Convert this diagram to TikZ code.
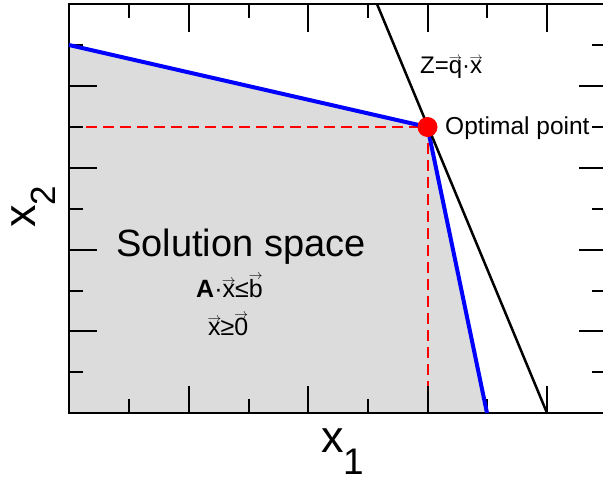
\documentclass[tikz,border=0pt]{standalone}
\usepackage{graphicx}
\usepackage{fontspec}
\setmainfont{Liberation Sans}
\newsavebox{\vabox}
\newcommand{\va}[1]{\leavevmode\sbox{\vabox}{#1}\ooalign{\usebox{\vabox}\cr\hidewidth\raisebox{\dimexpr\ht\vabox-0.04em\relax}{\resizebox{0.55em}{!}{$\rightarrow$}}\hidewidth\cr}}
\definecolor{solgray}{HTML}{DCDCDC}
\begin{document}
\begin{tikzpicture}[x=1pt,y=-1pt,
  lbl/.style={anchor=base west, inner sep=0},
  axisline/.style={line width=2.6pt},
  tickline/.style={line width=2pt},
  reddash/.style={red, line width=2pt, dash pattern=on 11pt off 6pt},
  bound/.style={blue, line width=4pt},
  objline/.style={black, line width=2.5pt},
  optdot/.style={circle, fill=red, minimum size=20pt, inner sep=0}]
\useasboundingbox (0,0) rectangle (603,477);
\clip (0,0) rectangle (603,477);
% corners
\coordinate (TL) at (69,4);
\coordinate (BL) at (69,413);
\coordinate (BR) at (606,413);
\coordinate (P1) at (69,45);
\coordinate (opt) at (427.5,127);
\coordinate (P3) at (487,413);
\coordinate (Ztop) at (377,4);
\coordinate (Zbot) at (547,413);
% solution space
\fill[solgray] (P1) -- (opt) -- (P3) -- (BL) -- cycle;
% dashed guides
\draw[reddash] (BL |- opt) -- (opt) -- (opt |- BL);
% axes box
\draw[axisline] (TL) rectangle (BR);
% x ticks
\foreach \x in {129,249,368,487}{
  \draw[tickline] (\x,413) -- (\x,399);
  \draw[tickline] (\x,4) -- (\x,18);}
\foreach \x in {189,308,428,547}{
  \draw[tickline] (\x,413) -- (\x,386);
  \draw[tickline] (\x,4) -- (\x,32);}
% y ticks
\foreach \y in {45,127,209,291,372}{
  \draw[tickline] (69,\y) -- (83,\y);
  \draw[tickline] (606,\y) -- (592,\y);}
\foreach \y in {86,168,250,331}{
  \draw[tickline] (69,\y) -- (97,\y);
  \draw[tickline] (606,\y) -- (579,\y);}
% constraints and objective
\draw[bound] (P1) -- (opt) -- (P3);
\draw[objline] (Ztop) -- (Zbot);
\node[optdot] (optpt) at (opt) {};
% labels
\node[lbl, font=\fontsize{24}{27}\selectfont] (zlab) at (420,73) {Z=\va{q}·\va{x}};
\node[lbl, font=\fontsize{24.5}{27}\selectfont] (optlab) at (445,134) {Optimal point};
\node[lbl, font=\fontsize{38}{42}\selectfont] (sollab) at (116,256) {Solution space};
\node[lbl, font=\fontsize{25}{28}\selectfont] (ineq1) at (196,297) {\textbf{A}·\va{x}≤\va{b}};
\node[lbl, font=\fontsize{25}{28}\selectfont] (ineq2) at (208,335) {\va{x}≥\va{0}};
\node[lbl, font=\fontsize{45}{48}\selectfont] (x1) at (321,452) {x};
\node[lbl, font=\fontsize{37}{40}\selectfont] (x1s) at (343,474) {1};
\node[lbl, rotate=90, font=\fontsize{45}{48}\selectfont] (x2) at (35,228) {x};
\node[lbl, rotate=90, font=\fontsize{35}{38}\selectfont] (x2s) at (55,206) {2};
\end{tikzpicture}
\end{document}
